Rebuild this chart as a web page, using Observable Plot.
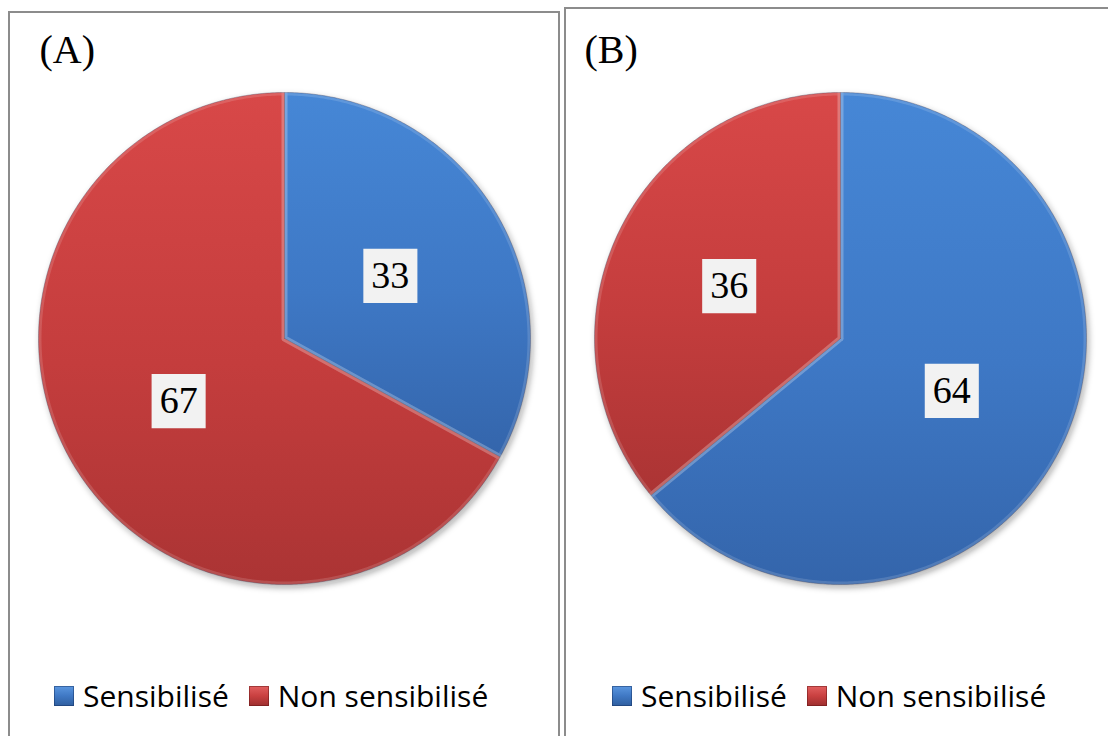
<!DOCTYPE html>
<html>
<head>
<meta charset="utf-8">
<script src="https://cdn.jsdelivr.net/npm/d3@7"></script>
<script src="https://cdn.jsdelivr.net/npm/@observablehq/plot@0.6"></script>
<style>
  body { margin: 0; background: #fff; width: 1108px; height: 736px; overflow: hidden; position: relative; }
  .panel { position: absolute; border: 2px solid #8c8c8c; box-sizing: border-box; height: 780px; background: #fff; }
  .chart { position: absolute; top: 0; width: 550px; height: 640px; }
  .chart svg { overflow: visible; max-width: none !important; }
  .chart svg > g:nth-of-type(1) { filter: drop-shadow(2px 3px 3px rgba(0,0,0,0.35)); }
  .chart g[aria-label="text"] text { font-family: "Liberation Serif", "Times New Roman", serif; }
  .legend { position: absolute; top: 675px; display: flex; align-items: center; font-family: "Open Sans", sans-serif; font-size: 30px; color: #000; white-space: nowrap; }
  .legend .item { display: flex; align-items: center; margin-right: 20px; }
  .legend .sw { width: 20px; height: 20px; margin-right: 9px; box-sizing: border-box; }
  .sw.blue { background: linear-gradient(180deg, #5b97e0 0%, #3f78c4 50%, #2f5e9e 100%); box-shadow: inset 0 0 0 1px rgba(20,50,100,0.5); }
  .sw.red  { background: linear-gradient(180deg, #e26060 0%, #c94040 50%, #9c2e2e 100%); box-shadow: inset 0 0 0 1px rgba(100,20,20,0.5); }
</style>
</head>
<body>
<!-- shared fills for the slices -->
<svg width="0" height="0" style="position:absolute">
  <defs>
    <linearGradient id="fillBlue" x1="0" y1="0" x2="0" y2="1">
      <stop offset="0" stop-color="#4687d6"/>
      <stop offset="0.55" stop-color="#3e78c5"/>
      <stop offset="1" stop-color="#3465ab"/>
    </linearGradient>
    <linearGradient id="fillRed" x1="0" y1="0" x2="0" y2="1">
      <stop offset="0" stop-color="#d84848"/>
      <stop offset="0.55" stop-color="#c43d3d"/>
      <stop offset="1" stop-color="#ab3434"/>
    </linearGradient>
  </defs>
</svg>

<div class="panel" style="left:8px; top:11px; width:552px;"></div>
<div class="panel" style="left:564px; top:7px; width:570px;"></div>
<div id="chartA" class="chart" style="left:9px;"></div>
<div id="chartB" class="chart" style="left:565px;"></div>
<div id="legendA" class="legend" style="left:54px;"></div>
<div id="legendB" class="legend" style="left:612px;"></div>

<script>
// Survey shares (percent)
const categories = ["Sensibilisé", "Non sensibilisé"];
const valuesA = [33, 67];
const valuesB = [64, 36];
const panelLabels = ["(A)", "(B)"];

const sliceFills = ["url(#fillBlue)", "url(#fillRed)"];
const swatchClasses = ["blue", "red"];
const serif = "Liberation Serif, Times New Roman, serif";

// Outline points of each slice on a unit circle, clockwise from 12 o'clock
function sliceOutlines(values) {
  const arcs = d3.pie().sort(null)(values);
  const pts = [];
  arcs.forEach((a, i) => {
    const cat = categories[i];
    pts.push({cat, x: 0, y: 0});
    const n = Math.max(2, Math.ceil((a.endAngle - a.startAngle) / 0.01));
    for (let k = 0; k <= n; k++) {
      const t = a.startAngle + (a.endAngle - a.startAngle) * k / n;
      pts.push({cat, x: Math.sin(t), y: Math.cos(t)});
    }
    pts.push({cat, x: 0, y: 0});
  });
  return pts;
}

// Value labels at half radius on each slice's mid-angle
function sliceLabels(values) {
  return d3.pie().sort(null)(values).map((a, i) => {
    const mid = (a.startAngle + a.endAngle) / 2;
    return {cat: categories[i], value: values[i], x: 0.5 * Math.sin(mid), y: 0.5 * Math.cos(mid)};
  });
}

function pieChart(values, label, cx, cy, R, titleDx) {
  const labels = sliceLabels(values);
  const outlines = sliceOutlines(values);
  return Plot.plot({
    width: 550,
    height: 640,
    margin: 0,
    x: {domain: [-1, 1], range: [cx - R, cx + R], axis: null},
    y: {domain: [-1, 1], range: [cy + R, cy - R], axis: null},
    color: {domain: categories, range: sliceFills},
    style: {background: "transparent", overflow: "visible", maxWidth: "none"},
    marks: [
      // slices
      Plot.line(outlines, {
        x: "x", y: "y", z: "cat", fill: "cat",
        stroke: "rgba(30,30,60,0.35)", strokeWidth: 1, curve: "linear"
      }),
      // soft bevel highlight along slice edges
      Plot.line(outlines, {
        x: "x", y: "y", z: "cat", fill: "none",
        stroke: "rgba(255,255,255,0.14)", strokeWidth: 6, curve: "linear", strokeLinejoin: "round"
      }),
      Plot.dot(labels, {x: "x", y: "y", symbol: "square", r: 30.5, fill: "#f2f2f2", stroke: "none"}),
      Plot.text(labels, {
        x: "x", y: "y", text: d => String(d.value),
        fontFamily: serif, fontSize: 38, fill: "#000"
      }),
      Plot.text([label], {
        frameAnchor: "top-left", dx: titleDx, dy: 50, textAnchor: "start", lineAnchor: "middle",
        fontFamily: serif, fontSize: 40, fill: "#000"
      })
    ]
  });
}

function legend(el) {
  categories.forEach((c, i) => {
    const item = document.createElement("div");
    item.className = "item";
    const sw = document.createElement("div");
    sw.className = "sw " + swatchClasses[i];
    const tx = document.createElement("span");
    tx.textContent = c;
    item.append(sw, tx);
    el.append(item);
  });
}

document.getElementById("chartA").append(pieChart(valuesA, panelLabels[0], 284 - 9, 338, 246, 30));
document.getElementById("chartB").append(pieChart(valuesB, panelLabels[1], 840 - 565, 338, 246, 19));
legend(document.getElementById("legendA"));
legend(document.getElementById("legendB"));
</script>
</body>
</html>
